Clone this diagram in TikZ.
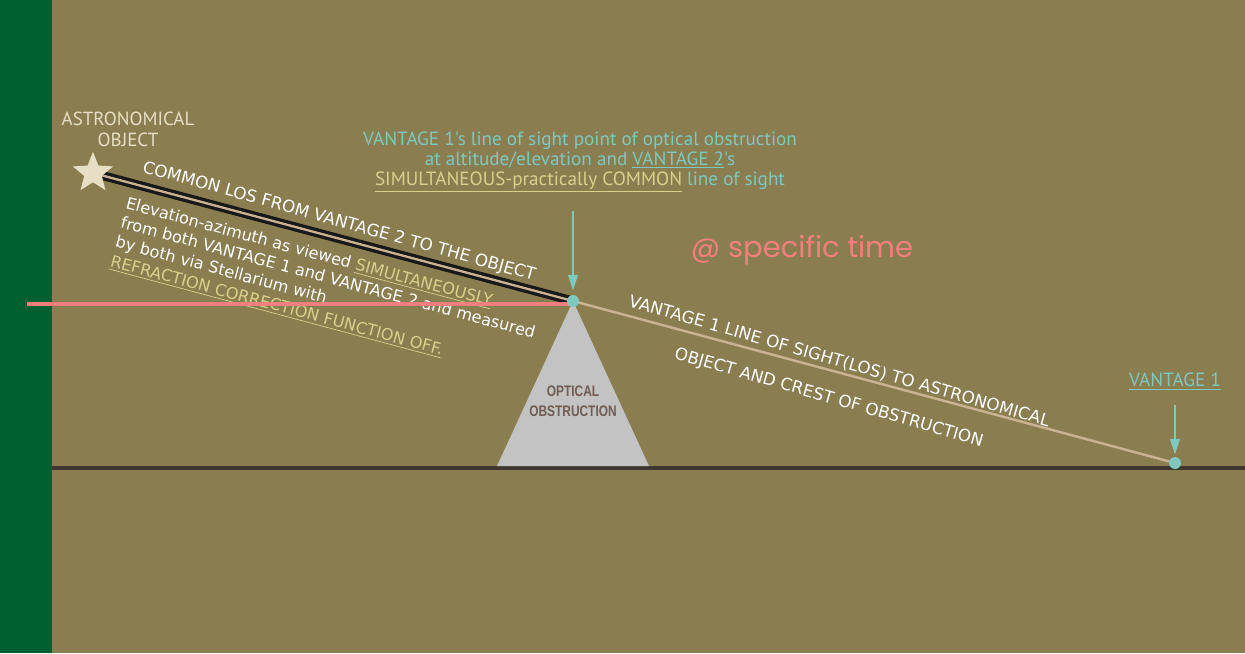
\documentclass[tikz,border=0pt]{standalone}
\usepackage{fontspec}
\setmainfont{DejaVu Sans}
\newfontfamily\labelfont{PT Sans}
\newfontfamily\narrowfont[FakeStretch=0.78]{Liberation Sans}
\newfontfamily\handfont{Poppins}
\usetikzlibrary{arrows.meta, positioning, shapes.geometric}

\definecolor{olivebg}{HTML}{8A7D50}
\definecolor{barGreen}{HTML}{00602F}
\definecolor{groundDark}{HTML}{3F3630}
\definecolor{tealLine}{HTML}{7DC9BF}
\definecolor{khakiText}{HTML}{D9D08C}
\definecolor{creamStar}{HTML}{E6DFC4}
\definecolor{salmonLine}{HTML}{F47F7C}
\definecolor{obstGray}{HTML}{C3C3C3}
\definecolor{tanLine}{HTML}{C9B393}
\definecolor{obstText}{HTML}{6F5C52}

\newcommand{\khakiul}[1]{\textcolor{khakiText}{\underline{#1}}}

\begin{document}
\begin{tikzpicture}[x=0.02cm, y=-0.02cm,
    whitetext/.style={text=white, font=\fontsize{9.2}{11.4}\selectfont, inner sep=0pt},
    tealtext/.style={text=tealLine, font=\labelfont\fontsize{10.9}{11.4}\selectfont, align=center},
    marker/.style={circle, fill=tealLine, inner sep=0pt, minimum size=0.24cm},
    pointer/.style={-{Triangle[length=9pt,width=5.5pt]}, tealLine, line width=1.1pt}]
    \useasboundingbox (0,0) rectangle (1245,653);
    \fill[olivebg] (0,0) rectangle (1245,653);
    \fill[barGreen] (0,0) rectangle (52,653);

    % ground
    \draw[groundDark, line width=2.3pt] (52,468) -- (1245,468);

    % key points
    \coordinate (objPt) at (93,173);
    \coordinate (crestPt) at (573,301);
    \coordinate (v1Pt) at (1175,463);
    \coordinate (horizonStart) at (27,304);

    % optical obstruction
    \fill[obstGray] (crestPt) -- (497,466) -- (649,466) -- cycle;
    \node[text=obstText, font=\narrowfont\bfseries\fontsize{8.7}{11.2}\selectfont, align=center] (obstLabel) at (573,401) {OPTICAL\\OBSTRUCTION};

    % texts along the lines of sight
    \node[whitetext, rotate=-15, anchor=north west, align=left] (viewNote) at (128,196)
        {Elevation-azimuth as viewed \khakiul{SIMULTANEOUSLY}\\
         from both VANTAGE 1 and VANTAGE 2 and measured\\
         by both via Stellarium with\\
         \khakiul{REFRACTION CORRECTION FUNCTION OFF.}};
    \node[whitetext, font=\fontsize{9.55}{11.4}\selectfont, rotate=-15.5] (commonLos) at (339,222) {COMMON LOS FROM VANTAGE 2 TO THE OBJECT};
    \node[whitetext, font=\fontsize{9.55}{11.4}\selectfont, rotate=-16, align=center] (v1Los) at (834,380)
        {VANTAGE 1 LINE OF SIGHT(LOS) TO ASTRONOMICAL\\[10pt]
         OBJECT AND CREST OF OBSTRUCTION};

    % lines of sight
    \draw[tanLine, line width=1.4pt] (crestPt) -- (v1Pt);
    \draw[black!90, line width=1.9pt, double=tanLine, double distance=1.3pt] (objPt) -- (crestPt);
    \draw[salmonLine, line width=2.8pt] (horizonStart) -- (horizonStart -| crestPt);

    % object and vantage points
    \node[star, star points=5, star point ratio=2.3, fill=creamStar, minimum size=0.85cm, inner sep=0pt] (object) at (objPt) {};
    \node[marker] (crest) at (crestPt) {};
    \node[marker] (vantage1) at (v1Pt) {};

    \node[text=creamStar, font=\labelfont\fontsize{10.8}{12}\selectfont, align=center] (objLabel) at (128,129) {ASTRONOMICAL\\OBJECT};

    \node[tealtext] (crestNote) at (580,162)
        {VANTAGE 1's line of sight point of optical obstruction\\
         at altitude/elevation and \underline{VANTAGE 2}'s\\
         \khakiul{SIMULTANEOUS-practically COMMON} line of sight};
    \node[tealtext, above=1.2cm of vantage1] (v1Label) {\underline{VANTAGE 1}};

    \draw[pointer, shorten <=0.24cm, shorten >=0.08cm] (crestNote.south -| crest) -- (crest.north);
    \draw[pointer, shorten <=0.16cm, shorten >=0.04cm] (v1Label.south) -- (vantage1.north);

    \node[text=salmonLine, font=\handfont\fontsize{16.5}{19}\selectfont] (timeNote) at (802,250) {@ specific time};
\end{tikzpicture}
\end{document}
